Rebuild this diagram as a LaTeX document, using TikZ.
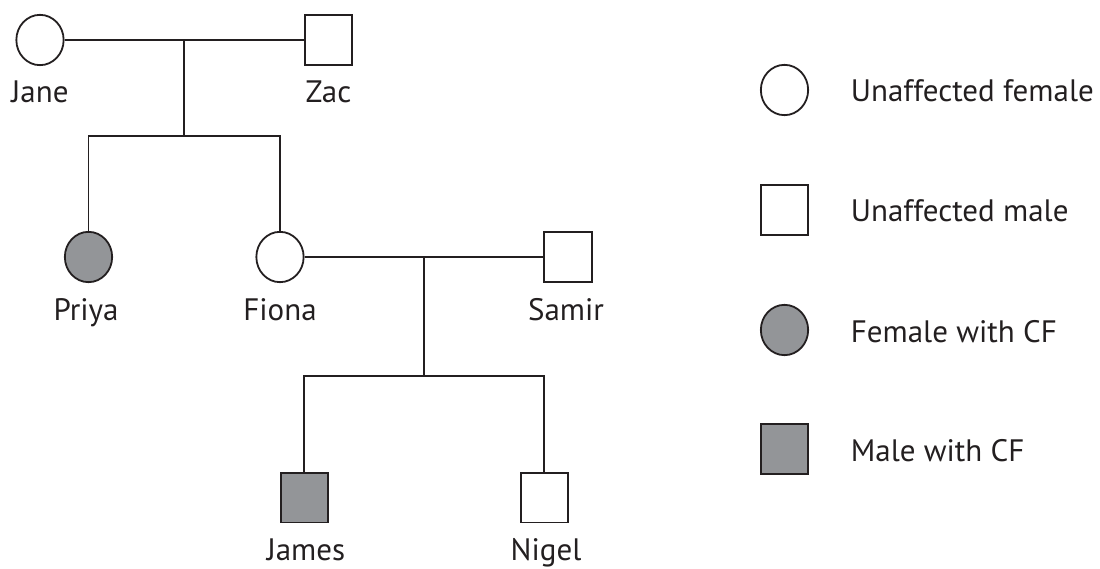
\documentclass[tikz,border=0pt]{standalone}
\usepackage{fontspec}
\setmainfont{PT Sans}
\usetikzlibrary{shapes.geometric}
\definecolor{cfgray}{RGB}{147,149,152}
\definecolor{inkc}{RGB}{35,31,32}
\begin{document}
\begin{tikzpicture}[x=1pt,y=-1pt,
  line width=1.8pt, draw=inkc,
  female/.style={ellipse, draw=inkc, minimum width=47.3pt, minimum height=50.3pt, inner sep=0pt, fill=white},
  male/.style={rectangle, draw=inkc, minimum width=47.3pt, minimum height=49.8pt, inner sep=0pt, fill=white},
  aff/.style={fill=cfgray},
  lbl/.style={font=\fontsize{31}{36}\selectfont, text=inkc, inner sep=0pt, anchor=base},
  leg/.style={font=\fontsize{31}{36}\selectfont, text=inkc, inner sep=0pt, anchor=base west},
  ]
\useasboundingbox (0,0) rectangle (1100,569);

% generation I
\node[female] (jane) at (40,40) {};
\node[male] (zac) at (328.5,40) {};
\node[lbl] (janel) at (40,103) {Jane};
\node[lbl] (zacl) at (328.5,103) {Zac};

% generation II
\node[female, aff] (priya) at (88.5,257) {};
\node[female] (fiona) at (280,257) {};
\node[male] (samir) at (568,257) {};
\node[lbl] (priyal) at (86,320) {Priya};
\node[lbl] (fional) at (280,320) {Fiona};
\node[lbl] (samirl) at (566,320) {Samir};

% generation III
\node[male, aff] (james) at (304.3,497.5) {};
\node[male] (nigel) at (544.3,497.5) {};
\node[lbl] (jamesl) at (306,560) {James};
\node[lbl] (nigell) at (546,560) {Nigel};

% connectors
\coordinate (m1) at (184,40);
\coordinate (s1) at (184,136);
\draw (jane.east) -- (zac.west);
\draw (m1) -- (s1);
\draw (priya.north) |- (s1) -| (fiona.north);

\coordinate (m2) at (424.3,257);
\coordinate (s2) at (424.3,376);
\draw (fiona.east) -- (samir.west);
\draw (m2) -- (s2);
\draw (james.north) |- (s2) -| (nigel.north);

% legend
\node[female] (lf) at (784.5,90) {};
\node[male] (lm) at (784.5,210) {};
\node[female, aff] (lfa) at (784.5,330) {};
\node[male, aff] (lma) at (784.5,449) {};
\node[leg] (lfl) at (850,102) {Unaffected female};
\node[leg] (lml) at (850,222) {Unaffected male};
\node[leg] (lfal) at (850,342) {Female with CF};
\node[leg] (lmal) at (850,461) {Male with CF};
\end{tikzpicture}
\end{document}
